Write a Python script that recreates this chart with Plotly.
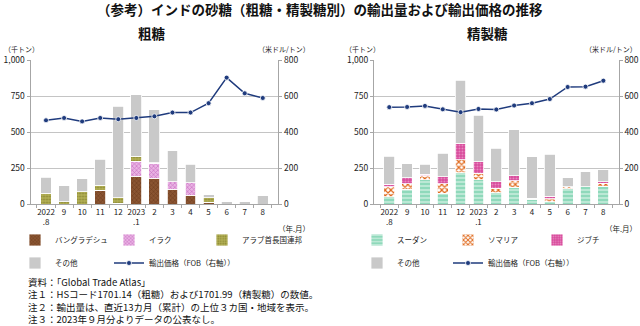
import plotly.graph_objects as go

months = ["2022<br>.8", "9", "10", "11", "12", "2023<br>.1", "2", "3", "4", "5", "6", "7", "8"]
cats = [f"m{i}" for i in range(len(months))]

# 粗糖 (千トン)
raw_bangladesh = [0, 0, 0, 95, 5, 192, 180, 102, 60, 12, 0, 0, 0]
raw_iraq = [0, 0, 0, 0, 0, 104, 102, 54, 89, 0, 0, 0, 0]
raw_uae = [75, 15, 84, 35, 40, 37, 3, 0, 0, 32, 0, 0, 0]
raw_other = [111, 111, 93, 182, 634, 424, 371, 214, 128, 19, 14, 16, 56]
raw_price = [465, 478, 459, 478, 471, 478, 487, 508, 508, 560, 702, 615, 589]

# 精製糖 (千トン)
ref_sudan = [51, 102, 167, 74, 218, 168, 77, 116, 33, 16, 107, 119, 123]
ref_somalia = [70, 40, 28, 66, 90, 45, 32, 44, 7, 19, 12, 0, 21]
ref_djibouti = [16, 42, 10, 48, 113, 79, 45, 35, 0, 18, 0, 0, 10]
ref_other = [193, 97, 72, 166, 438, 324, 232, 321, 288, 291, 65, 104, 83]
ref_price = [538, 539, 545, 526, 510, 528, 525, 547, 560, 583, 650, 652, 685]

FONT = "Noto Sans CJK JP"
W, H = 640, 326
def px(x): return x / W
def py(y): return 1 - y / H

fig = go.Figure()
legends = {}
_lcount = [0]

def new_legend(x, y):
    _lcount[0] += 1
    key = "legend" if _lcount[0] == 1 else f"legend{_lcount[0]}"
    legends[key] = dict(orientation="h", x=px(x), y=py(y), xanchor="left", yanchor="middle",
                        font=dict(family=FONT, size=7.5, color="#222"), bgcolor="rgba(0,0,0,0)",
                        borderwidth=0)
    return key

def bar(name, vals, xa, ya, lx, ly, bg, fg, shape, size=3, sol=0.35):
    m = dict(color=bg, line=dict(color="white", width=0.8))
    if shape:
        m["pattern"] = dict(shape=shape, bgcolor=bg, fgcolor=fg, size=size, solidity=sol, fillmode="replace")
    fig.add_trace(go.Bar(name=name, x=cats, y=vals, xaxis=xa, yaxis=ya, legend=new_legend(lx, ly), marker=m))

def line(vals, xa, ya, lx, ly):
    fig.add_trace(go.Scatter(name="輸出価格（FOB（右軸））", x=cats, y=vals, xaxis=xa, yaxis=ya,
                             legend=new_legend(lx, ly),
                             mode="lines+markers", line=dict(color="#1f3b7d", width=1.5),
                             marker=dict(color="#1f3b7d", size=5, line=dict(color="white", width=0.8))))

R1, R2 = 240, 263
OFF = 22
bar("バングラデシュ", raw_bangladesh, "x", "y", 37 - OFF, R1, "#8a5532", "#6b3a1c", "x", 3, 0.3)
bar("イラク", raw_iraq, "x", "y", 131 - OFF, R1, "#e9b3e3", "#c86cc2", "x", 3, 0.35)
bar("アラブ首長国連邦", raw_uae, "x", "y", 224 - OFF, R1, "#b3b055", "#8d8a35", ".", 3, 0.35)
bar("その他", raw_other, "x", "y", 37 - OFF, R2, "#c9c9c9", None, None)
line(raw_price, "x", "y2", 131 - OFF, R2)

bar("スーダン", ref_sudan, "x2", "y3", 379 - OFF, R1, "#8fd9bb", "#e8f8f0", "-", 4, 0.25)
bar("ソマリア", ref_somalia, "x2", "y3", 470 - OFF, R1, "#ffffff", "#e0691c", "x", 4, 0.5)
bar("ジブチ", ref_djibouti, "x2", "y3", 559 - OFF, R1, "#d84b9c", "#e98cc2", ".", 3, 0.3)
bar("その他", ref_other, "x2", "y3", 379 - OFF, R2, "#c9c9c9", None, None)
line(ref_price, "x2", "y4", 470 - OFF, R2)

ydom = [py(204), py(60)]
tickfont = dict(family=FONT, size=8.5, color="#222")
xcommon = dict(type="category", tickvals=cats, ticktext=months, tickangle=0,
               tickfont=dict(family=FONT, size=8, color="#222"), showgrid=False,
               showline=True, linecolor="#a6a6a6", ticks="outside", ticklen=3, tickcolor="#a6a6a6",
               tickson="boundaries", fixedrange=True)
yleft = dict(range=[0, 1000], tickvals=[0, 250, 500, 750, 1000], ticktext=["0", "250", "500", "750", "1,000"],
             tickfont=tickfont, showgrid=True, gridcolor="#c4c4c4", gridwidth=1, showline=True,
             linecolor="#a6a6a6", ticks="outside", ticklen=3, tickcolor="#a6a6a6", zeroline=False, domain=ydom)
yright = dict(range=[0, 800], tickvals=[0, 200, 400, 600, 800], tickfont=tickfont, showgrid=False,
              showline=True, linecolor="#a6a6a6", ticks="outside", ticklen=3, tickcolor="#a6a6a6",
              zeroline=False, side="right")

fig.update_layout(
    width=W, height=H, margin=dict(l=0, r=0, t=0, b=0, autoexpand=False),
    paper_bgcolor="white", plot_bgcolor="white",
    barmode="stack", bargap=0.4,
    font=dict(family=FONT, size=9, color="#222"),
    xaxis=dict(domain=[px(30.5), px(278.3)], anchor="y", **xcommon),
    xaxis2=dict(domain=[px(373.9), px(618.7)], anchor="y3", **xcommon),
    yaxis=dict(anchor="x", **yleft),
    yaxis2=dict(anchor="x", overlaying="y", **yright),
    yaxis3=dict(anchor="x2", **yleft),
    yaxis4=dict(anchor="x2", overlaying="y3", **yright),
    showlegend=True,
    **legends,
)

def ann(text, x, y, size=9, xanchor="center", bold=False, color="#222"):
    fig.add_annotation(text=f"<b>{text}</b>" if bold else text, x=px(x), y=py(y), xref="paper", yref="paper",
                       xanchor=xanchor, yanchor="middle", showarrow=False, align="left",
                       font=dict(family=FONT, size=size, color=color))

ann("（参考）インドの砂糖（粗糖・精製糖別）の輸出量および輸出価格の推移", 320, 9, 13.5, bold=True, color="#111")
ann("粗糖", 152, 33, 13.5, bold=True, color="#111")
ann("精製糖", 487, 33, 13.5, bold=True, color="#111")
ann("（千トン）", 2, 49, 7, xanchor="left")
ann("（米ドル/トン）", 312, 49, 7, xanchor="right")
ann("（千トン）", 343, 49, 7, xanchor="left")
ann("（米ドル/トン）", 639, 49, 7, xanchor="right")
ann("（年.月）", 312, 228, 7.5, xanchor="right")
ann("（年.月）", 639, 228, 7.5, xanchor="right")

notes = ["資料：「Global Trade Atlas」",
         "注１：HSコード1701.14（粗糖）および1701.99（精製糖）の数値。",
         "注２：輸出量は、直近13カ月（累計）の上位３カ国・地域を表示。",
         "注３：2023年９月分よりデータの公表なし。"]
ann("<br>".join(notes), 26, 300, 9.5, xanchor="left", color="#111")

fig.write_html("out.html")
